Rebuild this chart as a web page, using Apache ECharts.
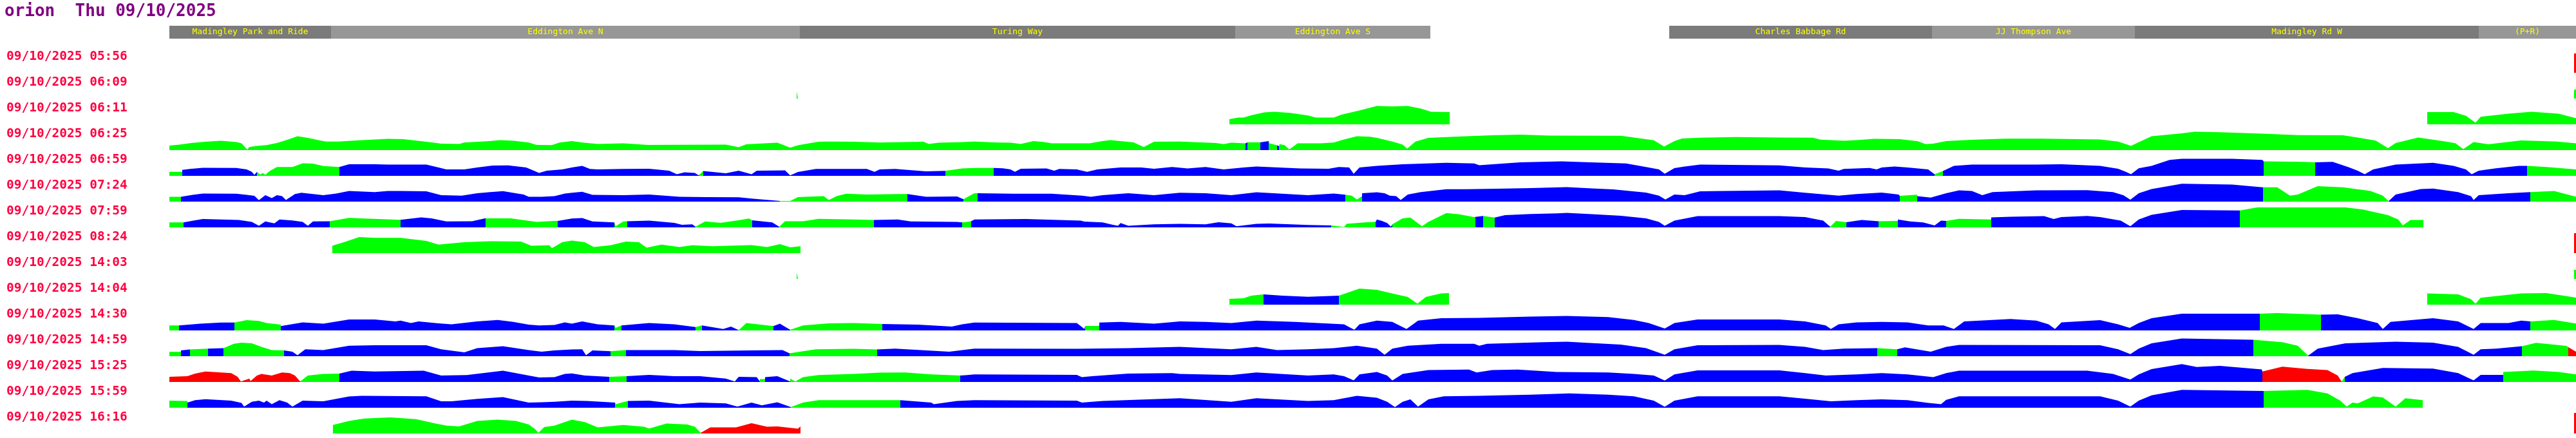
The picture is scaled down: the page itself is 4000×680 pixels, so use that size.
<!DOCTYPE html>
<html>
<head>
<meta charset="utf-8">
<title>orion Thu 09/10/2025</title>
<script src="https://cdn.jsdelivr.net/npm/echarts@6/dist/echarts.min.js"></script>
<style>
  html, body { margin: 0; padding: 0; background: #fff; }
  #chart { width: 4000px; height: 680px; }
</style>
</head>
<body>
<div id="chart"></div>
<script>
const title = 'orion  Thu 09/10/2025';

const runTimes = [
  '09/10/2025 05:56', '09/10/2025 06:09', '09/10/2025 06:11', '09/10/2025 06:25',
  '09/10/2025 06:59', '09/10/2025 07:24', '09/10/2025 07:59', '09/10/2025 08:24',
  '09/10/2025 14:03', '09/10/2025 14:04', '09/10/2025 14:30', '09/10/2025 14:59',
  '09/10/2025 15:25', '09/10/2025 15:59', '09/10/2025 16:16'
];

// route sections along the distance axis
const stopNames = ['Madingley Park and Ride', 'Eddington Ave N', 'Turing Way', 'Eddington Ave S',
  'Charles Babbage Rd', 'JJ Thompson Ave', 'Madingley Rd W', '(P+R)'];
const stopStart = [0, 251, 979, 1655, 2329, 2737, 3052, 3586];
const stopEnd = [251, 979, 1655, 1958, 2737, 3052, 3586, 3737];
const stopShade = [0, 1, 0, 1, 0, 1, 0, 1];

// speed profile per run: [distance, speed]; '-' = no data
const r0556 = [[3734, 30], [3737, 30]];
const c0556 = [[0, 'r']];

const r0609 = [[974, 11], [976, 11], '-', [3734, 14], [3737, 14]];
const c0609 = [[0, 'g']];

const r0611 = [[1646, 8], [1660, 10.4], [1668, 10.4], [1680, 14], [1700, 18.5], [1716, 19.6], [1740, 17.7],
  [1768, 13.7], [1780, 10.4], [1808, 10.4], [1820, 15], [1848, 21.4], [1875, 28.5], [1899, 27.7], [1923, 28.5],
  [1943, 24.4], [1959, 19.6], [1988, 18.9], '-',
  [3506, 18.9], [3547, 18.9], [3566, 13.3], [3581, 2.6], [3589, 11.8], [3632, 16.6], [3668, 19.6], [3710, 16.6], [3737, 9.6]];
const c0611 = [[0, 'g']];

const r0625 = [[0, 7], [16, 8.5], [34, 11], [56, 13], [80, 14.4], [104, 12.6], [112, 10.4], [121, 0.7], [124, 4.8],
  [136, 6.6], [151, 7.8], [167, 11], [183, 16], [199, 21.4], [215, 19], [231, 15.5], [243, 13.3], [263, 13.3],
  [291, 15], [339, 17.4], [363, 17], [383, 14.8], [411, 11.5], [422, 10], [450, 9.6], [458, 11.8], [498, 14],
  [514, 15.5], [534, 14.4], [558, 11.8], [570, 8.1], [594, 7.8], [606, 11.8], [625, 14],
  [641, 11.8], [665, 9.6], [705, 10.4], [743, 8], [864, 8.5], [884, 4.4], [896, 8.9], [944, 11.5], [964, 3.7],
  [976, 7.4], [1008, 13], [1024, 13.3], [1063, 13], [1103, 11.8], [1143, 12.6], [1171, 13], [1179, 9.6],
  [1195, 11.5], [1227, 12.2], [1250, 13.3],
  [1286, 11.8], [1306, 11.5], [1322, 9.6], [1342, 14], [1358, 12.6], [1370, 10.4], [1429, 10.4], [1449, 14],
  [1461, 15.5], [1497, 12], [1513, 4.8], [1529, 13], [1569, 13.3], [1625, 11], [1637, 9.2], [1649, 11.5],
  [1671, 10.4], [1674, 12], [1694, 12], [1695, 14], [1707, 14], [1708, 10.4], [1720, 7.4], [1723, 6],
  [1724, 9.2], [1732, 7.4], [1739, 1], [1752, 10.4], [1788, 10.4], [1808, 11.8], [1824, 16.6], [1844, 21.4],
  [1864, 20.7], [1875, 18.9],
  [1899, 13.3], [1915, 8.5], [1922, 2.2], [1935, 13.3], [1955, 18.9], [1995, 20.7], [2054, 23], [2098, 24],
  [2142, 22.6], [2254, 22.2], [2274, 19.6], [2305, 15.2], [2321, 5.5], [2337, 14], [2349, 18], [2377, 19.2],
  [2433, 20.3], [2500, 19.6],
  [2552, 19.2], [2564, 16.3], [2600, 14.4], [2620, 15.5], [2647, 17.4], [2687, 17], [2715, 13.7], [2727, 9.2],
  [2739, 10], [2759, 14], [2799, 16], [2851, 17.7], [2907, 17.7], [2998, 16.6], [3026, 13.3], [3046, 6.6],
  [3058, 12.2], [3078, 21.4], [3125, 25.9],
  [3145, 28.5], [3184, 27.7], [3250, 25.5], [3305, 23.3], [3375, 23], [3398, 19.6], [3426, 14.8], [3445, 3],
  [3457, 11], [3492, 19.6], [3535, 13.3], [3550, 10.4], [3562, 1.5], [3578, 12.6], [3601, 8.9], [3652, 15],
  [3707, 13.3], [3737, 10.4]];
const c0625 = [[0, 'g'], [1671, 'b'], [1674, 'g'], [1694, 'b'], [1707, 'g'], [1720, 'b'], [1723, 'g']];

const r0659 = [[0, 6.3], [20, 6.3], [20, 9.2], [32, 10.7], [52, 12.6], [104, 12.2], [120, 10], [128, 6.3],
  [132, 1.5], [136, 6.3], [138, 5.5], [141, 2], [145, 4.4], [149, 1.5], [155, 7], [167, 13.7], [191, 13.7],
  [207, 19.6], [223, 18.9], [239, 15.2], [264, 13.7], [279, 18], [319, 18], [339, 17.4], [399, 17.4],
  [418, 13], [430, 10], [458, 10], [478, 13], [502, 16], [526, 16.3], [554, 13], [566, 8], [574, 4.4],
  [586, 8], [610, 10], [625, 13],
  [641, 15.5], [653, 10.7], [665, 10], [705, 10.7], [745, 11], [776, 8], [788, 2.6], [800, 5.5], [816, 4.4],
  [822, 0.7], [823, 2], [829, 7.4], [864, 4], [884, 8], [904, 2.6], [912, 8], [956, 8.5], [964, 0.7],
  [976, 5.9], [1004, 10.7], [1083, 10.7], [1095, 6.3], [1103, 10], [1127, 10.7], [1175, 7], [1205, 7.7],
  [1231, 11.5], [1250, 12.2],
  [1280, 12.2], [1280, 13], [1294, 11.8], [1306, 10], [1313, 6.3], [1322, 11], [1362, 11.5], [1374, 8],
  [1382, 10.7], [1409, 10], [1425, 6.3], [1441, 10], [1477, 13], [1509, 13], [1529, 11], [1557, 13.7],
  [1581, 11.5], [1609, 13.7], [1637, 10], [1668, 13], [1688, 14.4], [1756, 11.5], [1800, 11], [1816, 13.7],
  [1832, 13], [1839, 3.3], [1848, 13], [1875, 15.5],
  [1915, 18], [1983, 20.3], [2026, 19.2], [2034, 16.6], [2098, 21], [2162, 22.6], [2206, 21], [2262, 19.2],
  [2297, 13], [2313, 10], [2322, 3.3], [2337, 12], [2353, 14.4], [2377, 17.4], [2500, 16.3],
  [2540, 13], [2576, 11.5], [2592, 8], [2600, 10.7], [2640, 12.2], [2651, 10], [2659, 13], [2679, 14.4],
  [2699, 13], [2731, 10], [2741, 2.6], [2754, 7.4], [2771, 15.5], [2799, 17.4], [2899, 17.4], [2938, 18.1],
  [2998, 15.5], [3026, 11], [3038, 6.3], [3046, 2.6], [3058, 11.8], [3078, 15.5], [3106, 24.8], [3125, 26.6],
  [3203, 26.6], [3250, 24.8], [3252, 22.6], [3312, 21.8], [3332, 21], [3359, 21.8], [3383, 13.7], [3398, 8],
  [3409, 2.6], [3422, 10], [3457, 17.4], [3515, 20.3], [3547, 15.5], [3566, 10], [3575, 2.6], [3586, 8],
  [3613, 11.8], [3648, 15.5], [3661, 15.5], [3691, 13.7], [3737, 10]];
const c0659 = [[0, 'g'], [20, 'b'], [136, 'g'], [264, 'b'], [823, 'g'], [829, 'b'], [1205, 'g'], [1280, 'b'],
  [2741, 'g'], [2754, 'b'], [3252, 'g'], [3332, 'b'], [3661, 'g']];

const r0724 = [[0, 7.4], [18, 7.4], [18, 8.1], [36, 10.4], [52, 12.6], [104, 12.2], [120, 10.4], [132, 8.9],
  [139, 2.2], [149, 10], [159, 5.5], [167, 10], [175, 8.5], [181, 2.6], [195, 11.8], [205, 13.7], [239, 10],
  [259, 12.6], [279, 16.6], [319, 14.8], [339, 16.6], [359, 16.6], [399, 15.9], [422, 10], [454, 9.2],
  [478, 13], [498, 14.8], [518, 16.3], [550, 11], [558, 7.4], [578, 7.4], [598, 8.5], [614, 12.6], [625, 13.7],
  [641, 15.2], [657, 10.4], [705, 10], [745, 11], [792, 7.4], [832, 7], [884, 6.7], [904, 4.8], [948, 1.1],
  [964, 1.1], [976, 7], [1016, 8.5], [1024, 2.6], [1036, 8.5], [1051, 12.2], [1083, 11], [1135, 11.8],
  [1146, 11.8], [1146, 10.7], [1175, 7.4], [1223, 8.1], [1233, 3.7], [1233, 4.4], [1250, 13],
  [1255, 13], [1255, 13.7], [1310, 12.2], [1370, 12.2], [1417, 9.2], [1431, 7.4], [1449, 10], [1489, 13],
  [1529, 10], [1569, 13.7], [1609, 13], [1649, 10], [1688, 14.4], [1728, 12.2], [1768, 10], [1808, 12.6],
  [1826, 10.7], [1836, 9.2], [1844, 3.3], [1852, 8.5], [1852, 13], [1875, 14.4],
  [1887, 13], [1895, 9.2], [1905, 8.5], [1912, 2.6], [1923, 11], [1943, 14.8], [1983, 19.2], [2014, 19.2],
  [2074, 20.3], [2114, 21], [2170, 22.6], [2214, 20.3], [2242, 18.9], [2293, 14], [2313, 9.2], [2323, 3.3],
  [2337, 11], [2353, 10], [2377, 15.9], [2413, 16.6], [2500, 17.4],
  [2540, 13.7], [2592, 9.2], [2620, 11.8], [2659, 14], [2685, 11], [2687, 8.9], [2714, 10.7], [2714, 8.5],
  [2735, 6.3], [2759, 13], [2779, 17.4], [2799, 16.6], [2815, 10], [2831, 14.8], [2899, 17.4], [2978, 17.7],
  [3018, 14.8], [3034, 10], [3045, 3], [3058, 13], [3078, 19.6], [3125, 27.7],
  [3203, 26.6], [3250, 22.2], [3251, 21], [3273, 22.2], [3293, 9.2], [3305, 11], [3336, 24], [3375, 22.2],
  [3418, 16.6], [3437, 9.2], [3446, 0.7], [3457, 11], [3496, 19.6], [3515, 20.3], [3554, 14.8], [3574, 8.5],
  [3578, 2.6], [3586, 10], [3632, 13], [3666, 14.8], [3666, 13], [3703, 16.6], [3737, 7.4]];
const c0724 = [[0, 'g'], [18, 'b'], [948, 'g'], [1146, 'b'], [1233, 'g'], [1255, 'b'], [1826, 'g'], [1852, 'b'],
  [2687, 'g'], [2714, 'b'], [3251, 'g'], [3446, 'b'], [3666, 'g']];

const r0759 = [[0, 7.8], [22, 7.8], [22, 8.5], [40, 11], [52, 13], [108, 11.5], [128, 8.5], [139, 2.6],
  [149, 9.2], [163, 6.3], [171, 12.2], [191, 10.7], [207, 8.5], [215, 2.6], [223, 9.2], [249, 9.6],
  [249, 11.5], [279, 14.8], [303, 13.7], [359, 11.8], [359, 13], [391, 15.5], [407, 14], [430, 9.2],
  [470, 9.6], [490, 14], [491, 13.3], [530, 14], [570, 8.5], [598, 10], [603, 10], [625, 13.7],
  [641, 14.4], [657, 9.2], [691, 7.8], [693, 1.8], [705, 9.2], [711, 9.6], [745, 10.4], [784, 7], [796, 4],
  [812, 4.8], [817, 1], [832, 9.2], [856, 7], [880, 10.4], [900, 13.7], [905, 11], [936, 7.8], [947, 1],
  [956, 9.6], [984, 9.6], [1008, 13.3], [1063, 12.2], [1094, 11.5], [1131, 12.2], [1151, 9.2], [1223, 8.5],
  [1231, 7.8], [1235, 8.1], [1245, 9.6], [1250, 12.2],
  [1330, 13], [1415, 10.4], [1421, 8.9], [1449, 7.8], [1465, 4], [1473, 2.6], [1477, 6.7], [1489, 2.6],
  [1529, 4.8], [1569, 5.5], [1609, 4.8], [1629, 8.1], [1649, 6.3], [1657, 1.8], [1688, 5.5], [1708, 5.9],
  [1768, 3.7], [1804, 3], [1824, 0.5], [1828, 5.5], [1860, 8.1], [1873, 8.5], [1875, 12.2],
  [1883, 10], [1891, 6.7], [1897, 1], [1899, 4.8], [1915, 14], [1927, 15.2], [1945, 1.8], [1955, 8.5],
  [1983, 22.2], [2003, 20.3], [2026, 15.9], [2028, 14.8], [2040, 17.7], [2058, 15.2], [2074, 18.9],
  [2114, 20.7], [2154, 21.8], [2170, 22.6], [2214, 20.3], [2254, 18.1], [2293, 14], [2313, 8.5], [2322, 2.6],
  [2337, 10.4], [2373, 17.4], [2500, 17.4],
  [2540, 15.9], [2568, 10.4], [2579, 1], [2588, 10], [2604, 8.1], [2604, 10], [2628, 11.5], [2654, 9.6],
  [2654, 8.5], [2684, 10], [2684, 12.2], [2703, 9.2], [2723, 7.8], [2741, 3], [2751, 10.4], [2759, 10],
  [2779, 13.3], [2829, 12.2], [2829, 15.5], [2859, 16.6], [2911, 17.4], [2926, 13], [2938, 15.9],
  [2978, 17.7], [2998, 15.9], [3030, 10.4], [3045, 1.8], [3058, 12.2], [3078, 19.6], [3125, 27],
  [3215, 26.2], [3242, 31], [3379, 31], [3406, 27.7], [3445, 18.9], [3461, 12.2], [3468, 3], [3480, 11.5],
  [3500, 11.5]];
const c0759 = [[0, 'g'], [22, 'b'], [249, 'g'], [359, 'b'], [491, 'g'], [603, 'b'], [691, 'g'], [711, 'b'],
  [817, 'g'], [905, 'b'], [947, 'g'], [1094, 'b'], [1231, 'g'], [1245, 'b'], [1804, 'g'], [1873, 'b'],
  [1899, 'g'], [2028, 'b'], [2040, 'g'], [2058, 'b'], [2579, 'g'], [2604, 'b'], [2654, 'g'], [2684, 'b'],
  [2759, 'g'], [2829, 'b'], [3215, 'g']];

const r0824 = [[253, 11.5], [271, 17], [295, 25], [319, 23.7], [359, 23.7], [399, 18.9], [418, 13.3],
  [458, 17], [498, 18.5], [546, 18.1], [562, 11.5], [590, 12.2], [594, 7.8], [610, 17], [625, 19.6],
  [645, 17], [659, 9.6], [685, 12.2], [709, 18.1], [729, 17], [741, 8.5], [764, 13.3], [792, 9.6],
  [812, 12.2], [844, 10.7], [904, 12.6], [928, 9.6], [948, 14], [964, 8.9], [980, 10.7], '-',
  [3734, 31], [3737, 31]];
const c0824 = [[0, 'g'], [3730, 'r']];

const r1403 = [[974, 10], [976, 10], '-', [3734, 14], [3737, 14]];
const c1403 = [[0, 'g']];

const r1404 = [[1646, 9], [1668, 10], [1680, 14], [1699, 16], [1728, 14], [1768, 12.2], [1816, 14],
  [1848, 25], [1875, 23], [1907, 15.5], [1923, 12], [1938, 1.5], [1951, 12], [1975, 17.4], [1987, 18], '-',
  [3506, 17.4], [3554, 16], [3574, 8.5], [3581, 1.5], [3589, 10.7], [3652, 17.4], [3691, 18], [3737, 11]];
const c1404 = [[0, 'g'], [1699, 'b'], [1816, 'g']];

const r1430 = [[0, 7.8], [15, 7.8], [48, 10.4], [80, 12.2], [101, 12.2], [120, 16], [139, 14.8], [151, 11.5],
  [173, 8.9], [173, 6.7], [207, 12.6], [239, 10.4], [279, 17], [319, 17], [351, 14], [359, 15.2], [375, 11.5],
  [387, 14], [418, 11], [438, 9.6], [478, 14], [510, 16.3], [534, 13.3], [558, 8.9], [574, 7.8], [598, 8.5],
  [614, 12.6], [625, 10.4],
  [641, 14], [665, 9.6], [691, 7.8], [693, 4], [702, 7.8], [745, 11.5], [784, 9.6], [817, 5.2], [827, 7.8],
  [860, 2.2], [872, 5.9], [884, 0.5], [896, 11.5], [938, 6.7], [948, 10.4], [964, 1.1], [984, 7.8],
  [1024, 11], [1063, 11.5], [1107, 10], [1163, 8.9], [1215, 5.9], [1231, 9.6], [1250, 12.2],
  [1409, 11.5], [1421, 2.2], [1422, 7], [1444, 7], [1444, 12.2], [1477, 13.3], [1529, 10.4], [1569, 14],
  [1609, 13.3], [1649, 11.5], [1688, 15.2], [1748, 13.3], [1824, 9.6], [1840, 1.1], [1848, 9.6], [1875, 15.2],
  [1899, 13.3], [1921, 2.2], [1939, 15.2], [1975, 18.9], [2034, 19.6], [2114, 21.4], [2170, 22.6],
  [2234, 20.7], [2274, 16.3], [2297, 11.5], [2322, 3], [2337, 11.5], [2373, 17], [2500, 17],
  [2540, 14], [2572, 7.8], [2580, 2.2], [2592, 9.6], [2620, 12.6], [2659, 13.3], [2699, 12.6], [2731, 7.8],
  [2755, 7.8], [2771, 2.2], [2787, 14], [2859, 17.7], [2899, 15.2], [2918, 9.6], [2928, 2.2], [2938, 12.6],
  [2998, 15.9], [3026, 9.6], [3044, 4], [3058, 11.5], [3078, 18.9], [3125, 26],
  [3242, 25.9], [3246, 26], [3273, 27], [3341, 24.4], [3367, 25.1], [3398, 18.9], [3429, 11.5], [3437, 2.2],
  [3449, 13.3], [3515, 18.9], [3554, 14], [3578, 2.2], [3589, 11.5], [3632, 11.5], [3652, 15.2], [3666, 14],
  [3703, 16.3], [3737, 10.7]];
const c1430 = [[0, 'g'], [15, 'b'], [101, 'g'], [173, 'b'], [691, 'g'], [702, 'b'], [817, 'g'], [827, 'b'],
  [884, 'g'], [938, 'b'], [964, 'g'], [1107, 'b'], [1422, 'g'], [1444, 'b'], [3246, 'g'], [3341, 'b'], [3666, 'g']];

const r1459 = [[0, 6.7], [18, 6.7], [18, 8.9], [32, 10.4], [60, 11.8], [84, 12.6], [100, 19.2], [112, 21],
  [128, 20], [143, 14.4], [159, 9.6], [178, 8.9], [178, 9.6], [191, 7], [199, 1.5], [211, 10.7], [239, 9.6],
  [279, 16.3], [319, 17], [399, 17], [422, 10.7], [458, 6], [478, 12.6], [518, 15.5], [558, 9.6], [578, 7],
  [598, 8.9], [625, 10.4],
  [641, 10.7], [647, 1.5], [657, 8.9], [685, 7.8], [709, 9.6], [784, 9.6], [824, 8.1], [904, 8.9], [952, 9.6],
  [963, 4.4], [1004, 10.7], [1063, 11.5], [1099, 10.4], [1127, 11.8], [1211, 7], [1250, 11.8],
  [1409, 11.5], [1489, 12.6], [1569, 14.4], [1649, 10.7], [1688, 14.4], [1720, 9.6], [1768, 10.7],
  [1808, 12.6], [1844, 16.3], [1875, 11.8],
  [1887, 2.2], [1899, 11.8], [1923, 16.3], [1975, 19.2], [2026, 19.2], [2034, 16.3], [2046, 19.2],
  [2134, 21.8], [2170, 22.6], [2202, 20.7], [2254, 18.1], [2293, 12.6], [2322, 2.2], [2337, 10.7],
  [2373, 17], [2500, 17.4],
  [2540, 14.4], [2568, 9.6], [2600, 11.8], [2651, 12.6], [2652, 10.7], [2683, 10.7], [2683, 9.6],
  [2695, 13.7], [2735, 7], [2759, 14.4], [2779, 17.4], [2998, 17], [3026, 10.7], [3045, 3.3], [3058, 11.8],
  [3078, 20], [3125, 27.4],
  [3236, 25.5], [3281, 21.8], [3305, 16.3], [3321, 0.7], [3336, 11.8], [3379, 20], [3457, 22.6],
  [3515, 21], [3554, 14.4], [3578, 2.2], [3589, 10.7], [3613, 11.8], [3653, 15.5], [3675, 20.7],
  [3722, 15.9], [3737, 7]];
const c1459 = [[0, 'g'], [18, 'b'], [32, 'g'], [60, 'b'], [84, 'g'], [178, 'b'], [685, 'g'], [709, 'b'],
  [963, 'g'], [1099, 'b'], [2652, 'g'], [2683, 'b'], [3236, 'g'], [3321, 'b'], [3653, 'g'], [3725, 'r']];

const r1525 = [[0, 8.1], [28, 8.9], [40, 13], [56, 16.3], [80, 14.8], [96, 13.7], [106, 8.1], [111, 0.7],
  [120, 3.7], [124, 5.2], [126, 1.5], [136, 10], [143, 12.6], [159, 10], [175, 14.8], [187, 13.7], [195, 10],
  [203, 0.7], [204, 2.6], [215, 10], [239, 12.6], [264, 13], [264, 14.4], [283, 17.4], [319, 16.3],
  [395, 17.4], [422, 10], [462, 10.7], [518, 17.4], [558, 10], [574, 7], [598, 7.4], [614, 12.6], [625, 13.3],
  [645, 10], [683, 8.1], [683, 8.9], [710, 8.9], [710, 9.6], [745, 11.1], [784, 8.9], [824, 8.9], [864, 5.2],
  [878, 0.7], [884, 8.1], [912, 7.4], [917, 0.7], [917, 4.4], [925, 4.4], [925, 7.4], [944, 8.9], [964, 0.7],
  [964, 5.2], [972, 0.7], [984, 7.4], [1008, 10.7], [1063, 12.6], [1103, 14.4], [1143, 14.8], [1183, 11.8],
  [1228, 10], [1228, 8.1], [1239, 10.7], [1250, 11.8],
  [1409, 11.1], [1417, 7.4], [1433, 8.9], [1489, 13], [1557, 13.7], [1569, 12.6], [1649, 10.7], [1688, 14.8],
  [1768, 10], [1808, 11.8], [1824, 8.9], [1839, 2.6], [1848, 11.8], [1875, 15.5],
  [1891, 10], [1899, 2.2], [1915, 12.6], [1955, 18.5], [2018, 19.2], [2030, 14.8], [2054, 18.5], [2094, 19.2],
  [2154, 15.5], [2234, 14.8], [2274, 12.6], [2305, 10], [2322, 2.2], [2337, 11.8], [2373, 18.1], [2500, 18.1],
  [2540, 13.7], [2572, 10], [2620, 11.8], [2659, 13.7], [2699, 11.8], [2739, 7.4], [2759, 13.7],
  [2779, 17.4], [2978, 17.4], [3018, 12.6], [3045, 3.7], [3058, 11.8], [3078, 20], [3125, 27.7],
  [3148, 23.3], [3184, 25.1], [3249, 19.6], [3250, 16.3], [3281, 23.7], [3320, 20.3], [3351, 18.5],
  [3367, 10], [3373, 0.7], [3378, 8.1], [3390, 13.7], [3437, 21.8], [3515, 20.7], [3554, 13.7], [3578, 2.6],
  [3589, 11.1], [3624, 11.1], [3624, 15.5], [3671, 17.7], [3710, 15.5], [3737, 11.8]];
const c1525 = [[0, 'r'], [204, 'g'], [264, 'b'], [683, 'g'], [710, 'b'], [917, 'g'], [925, 'b'], [964, 'g'],
  [1228, 'b'], [3250, 'r'], [3373, 'g'], [3378, 'b'], [3624, 'g']];

const r1559 = [[0, 11], [24, 10.4], [28, 10.4], [28, 8.1], [40, 11.8], [56, 13.3], [96, 11.1], [112, 7.4],
  [116, 1.8], [128, 9.2], [139, 11.1], [147, 8.1], [151, 11.1], [159, 5.5], [171, 11.8], [183, 8.1],
  [191, 1.8], [207, 11.1], [239, 10], [279, 17.4], [299, 18.5], [399, 17.7], [422, 10], [438, 10],
  [478, 13.7], [518, 16.6], [558, 8.1], [578, 8.5], [598, 9.2], [625, 11.1],
  [649, 10.4], [692, 8.1], [693, 5.5], [712, 10.4], [745, 11.1], [792, 5.5], [824, 8.1], [864, 6.7],
  [882, 1.8], [904, 8.1], [920, 3.7], [944, 8.5], [965, 1.1], [984, 8.1], [1008, 11.8], [1063, 11.8],
  [1135, 11.8], [1135, 11.1], [1183, 8.1], [1187, 5.5], [1223, 10.4], [1250, 11.8],
  [1409, 11.1], [1417, 8.1], [1449, 10.4], [1569, 14.8], [1649, 9.2], [1688, 14.8], [1768, 10.4],
  [1808, 11.8], [1844, 18.5], [1875, 15.5],
  [1891, 9.2], [1903, 1.1], [1915, 9.2], [1927, 12.9], [1939, 1.8], [1955, 12.9], [1979, 17.7], [2034, 18.5],
  [2114, 20.3], [2174, 22.2], [2234, 20.3], [2274, 17.7], [2305, 11.1], [2322, 1.5], [2337, 11.1],
  [2373, 17.7], [2500, 17.7],
  [2540, 14], [2580, 10], [2620, 11.8], [2659, 13], [2699, 11.8], [2731, 7.4], [2751, 5.5], [2759, 12.2],
  [2779, 17.7], [2998, 17.7], [3026, 11.1], [3045, 1.8], [3058, 11.1], [3078, 19.2], [3125, 27.7],
  [3252, 25.9], [3252, 24.8], [3320, 27.7], [3351, 22.2], [3371, 11.1], [3381, 1.8], [3390, 8.1],
  [3398, 6.7], [3422, 17.4], [3437, 15.9], [3457, 1.8], [3472, 14.8], [3499, 11.8]];
const c1559 = [[0, 'g'], [28, 'b'], [692, 'g'], [712, 'b'], [965, 'g'], [1135, 'b'], [3252, 'g']];

const r1616 = [[254, 13.3], [279, 19.6], [303, 23.3], [343, 25], [383, 22.2], [411, 15.9], [430, 12.2],
  [450, 11], [478, 19.6], [510, 21.4], [538, 19.6], [558, 14], [568, 6.7], [573, 1], [582, 10], [598, 12.2],
  [625, 21.4], [645, 17.7], [665, 9.6], [705, 13.3], [737, 10.4], [745, 7.8], [772, 15.5], [804, 14],
  [816, 10.4], [825, 1], [840, 9.6], [880, 9.6], [904, 15.9], [928, 10.4], [944, 11], [976, 7.4], [980, 11],
  '-', [3734, 32], [3737, 32]];
const c1616 = [[0, 'g'], [825, 'r']];

const rowData = [r0556, r0609, r0611, r0625, r0659, r0724, r0759, r0824,
  r1403, r1404, r1430, r1459, r1525, r1559, r1616];
const rowColours = [c0556, c0609, c0611, c0625, c0659, c0724, c0759, c0824,
  c1403, c1404, c1430, c1459, c1525, c1559, c1616];

const palette = { g: '#00ff00', b: '#0000ff', r: '#ff0000' };
const routeLength = 3737;
const plotLeft = 263;

const grid = [
  { left: plotLeft, width: routeLength, top: 67.5, height: 600 },  // run labels
  { left: plotLeft, width: routeLength, top: 40, height: 20 }      // stop header
];
const xAxis = [
  { gridIndex: 0, type: 'value', min: 0, max: routeLength, show: false },
  { gridIndex: 1, type: 'value', min: 0, max: routeLength, show: false }
];
const yAxis = [
  {
    gridIndex: 0, type: 'category', inverse: true, data: runTimes,
    axisLine: { show: false }, axisTick: { show: false }, splitLine: { show: false },
    axisLabel: {
      interval: 0, align: 'left', margin: 253, color: '#ff0040',
      fontFamily: 'DejaVu Sans Mono', fontWeight: 'bold', fontSize: 19.5
    }
  },
  { gridIndex: 1, type: 'value', min: 0, max: 1, show: false }
];

const series = [];

// header: one filled band per route section, labelled in the middle
stopNames.forEach(function (n, i) {
  series.push({
    type: 'line',
    xAxisIndex: 1,
    yAxisIndex: 1,
    silent: true,
    symbol: 'none',
    lineStyle: { width: 0 },
    areaStyle: { opacity: 1, color: stopShade[i] ? '#979797' : '#7b7b7b' },
    data: [[stopStart[i], 1], [stopEnd[i], 1]],
    markPoint: {
      symbol: 'rect', symbolSize: 1, silent: true,
      itemStyle: { color: 'transparent' },
      label: { show: true, position: 'inside', color: '#ffff00', fontFamily: 'DejaVu Sans Mono', fontSize: 13 },
      data: [{ coord: [(stopStart[i] + stopEnd[i]) / 2, 0.5], value: n }]
    }
  });
});

// each colour span of a run gets its own grid window over the same profile,
// so the area is cut exactly where the colour changes
rowData.forEach(function (pts, k) {
  const breaks = rowColours[k];
  breaks.forEach(function (b, i) {
    const from = b[0];
    const to = i < breaks.length - 1 ? breaks[i + 1][0] : routeLength;
    const gi = grid.length;
    grid.push({ left: plotLeft + from, width: to - from, top: 73 + 40 * k, height: 40 });
    xAxis.push({ gridIndex: gi, type: 'value', min: from, max: to, show: false });
    yAxis.push({ gridIndex: gi, type: 'value', min: 0, max: 40, show: false });
    series.push({
      type: 'line',
      xAxisIndex: gi,
      yAxisIndex: gi,
      data: pts,
      clip: true,
      symbol: 'none',
      silent: true,
      lineStyle: { width: 0 },
      areaStyle: { opacity: 1, color: palette[b[1]] },
      emphasis: { disabled: true }
    });
  });
});

const chart = echarts.init(document.getElementById('chart'));
chart.setOption({
  animation: false,
  backgroundColor: '#ffffff',
  title: {
    text: title,
    left: 2,
    top: 0,
    textStyle: { color: '#800080', fontFamily: 'DejaVu Sans Mono', fontWeight: 'bold', fontSize: 26 }
  },
  grid: grid,
  xAxis: xAxis,
  yAxis: yAxis,
  series: series
});
</script>
</body>
</html>
